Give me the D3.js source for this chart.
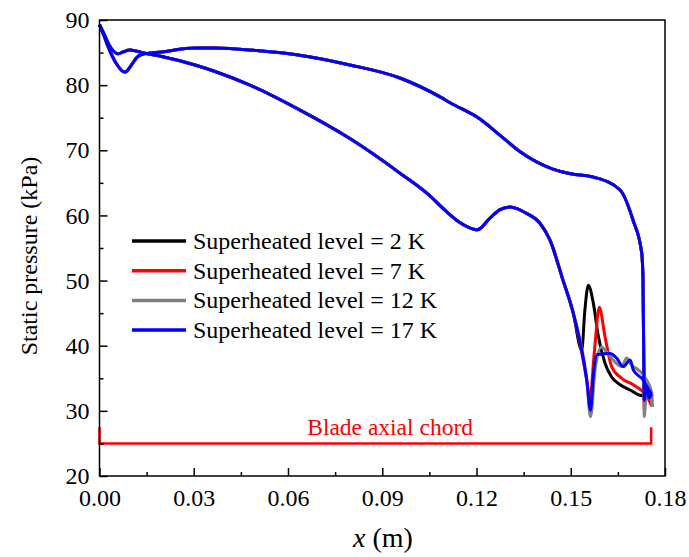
<!DOCTYPE html>
<html>
<head>
<meta charset="utf-8">
<script src="https://cdn.jsdelivr.net/npm/d3@7"></script>
<style>
  body { margin: 0; background: #fff; }
  text { font-family: "Liberation Serif", "Times New Roman", serif; fill: #000; }
</style>
</head>
<body>
<svg id="chart"></svg>
<script>
// suction side, shared by all levels up to the shock region [x (m), p (kPa)]
const suctionLead = [
  [0, 89.3], [0.0015, 87.8], [0.003, 86.2], [0.0045, 85.2], [0.0059, 84.8],
  [0.0075, 85.1], [0.0097, 85.4], [0.012, 85.2], [0.0145, 84.9], [0.0198, 84.4],
  [0.0304, 83.1], [0.0368, 82.1], [0.0479, 80.0], [0.0637, 76.2], [0.0797, 71.8],
  [0.0956, 66.5], [0.1061, 62.6], [0.1084, 61.5], [0.1116, 60.1], [0.1147, 58.9],
  [0.119, 57.9], [0.1202, 57.8], [0.1243, 59.6], [0.1275, 60.9], [0.1307, 61.3],
  [0.136, 60.3], [0.1402, 58.8], [0.1434, 56.2], [0.1475, 50.1], [0.1508, 45.0]
]

// pressure side, shared up to the trailing edge
const pressureLead = [
  [0, 89.3], [0.0015, 87.5], [0.003, 85.6], [0.005, 83.6], [0.0081, 82.0],
  [0.0102, 83.1], [0.0118, 84.2], [0.0134, 84.7], [0.0198, 85.1], [0.0304, 85.7],
  [0.0368, 85.7], [0.05, 85.3], [0.0637, 84.6], [0.0797, 83.1], [0.0956, 81.1],
  [0.1084, 78.2], [0.1116, 77.3], [0.1211, 74.8], [0.1275, 72.3], [0.1338, 69.8],
  [0.1443, 67.1], [0.15, 66.4], [0.1571, 65.9], [0.1657, 63.9], [0.1698, 59.3],
  [0.1726, 54.2], [0.1730, 50.1]
]

// suction side tails (shock region)
const tail2K = [
  [0.1535, 39.3], [0.1545, 45.5], [0.1556, 49.3], [0.1572, 46.5], [0.1588, 41.4],
  [0.1609, 37.3], [0.1630, 35.2], [0.1657, 34.0], [0.1689, 33.2], [0.1720, 32.4],
  [0.1752, 32.2], [0.1758, 31.6]
]
const tail7K = [
  [0.1551, 34.7], [0.1561, 31.9], [0.1575, 39.0], [0.1591, 45.9], [0.1609, 41.4],
  [0.1630, 36.8], [0.1662, 35.0], [0.1699, 34.0], [0.1731, 32.9], [0.1750, 31.8],
  [0.1758, 30.8]
]
const tail12K = [
  [0.1551, 34.7], [0.1563, 29.1], [0.1578, 36.5], [0.1598, 39.8], [0.1615, 39.0],
  [0.1635, 37.8], [0.1662, 36.8], [0.1678, 38.1], [0.1694, 37.0], [0.1715, 36.3],
  [0.1742, 34.7], [0.1758, 32.7], [0.1760, 30.6]
]
const tail17K = [
  [0.1551, 34.7], [0.1563, 30.1], [0.1572, 35.5], [0.1583, 38.6], [0.1625, 38.8],
  [0.1646, 38.1], [0.1667, 36.8], [0.1689, 37.8], [0.1699, 36.3], [0.1731, 34.7],
  [0.1745, 33.5], [0.1757, 32.6]
]

// pressure side trailing edge drop
const te2K = [[0.1732, 40.0], [0.1734, 32.0], [0.1745, 32.4], [0.1758, 31.6]]
const te7K = [[0.1732, 40.0], [0.1734, 30.2], [0.1740, 32.5], [0.1750, 31.5], [0.1758, 30.8]]
const te12K = [[0.1732, 40.0], [0.1734, 29.1], [0.1740, 33.0], [0.1750, 33.5], [0.1760, 30.6]]
const te17K = [[0.1732, 40.0], [0.1734, 31.6], [0.1742, 33.8], [0.1750, 32.0], [0.1757, 32.6]]

const levels = ["Superheated level = 2 K", "Superheated level = 7 K",
  "Superheated level = 12 K", "Superheated level = 17 K"]
const tails = [tail2K, tail7K, tail12K, tail17K]
const edges = [te2K, te7K, te12K, te17K]
const colors = ["#000000", "#ff0000", "#808080", "#0000ff"]

const xTicks = [0, 0.03, 0.06, 0.09, 0.12, 0.15, 0.18]
const yTicks = [20, 30, 40, 50, 60, 70, 80, 90]
const chord = 0.1756

const width = 689, height = 557
const svg = d3.select('#chart').attr('width', width).attr('height', height)

const x = d3.scaleLinear().domain([0, 0.18]).range([99.5, 665])
const y = d3.scaleLinear().domain([20, 90]).range([476, 20])

const line = d3.line()
  .x(d => x(d[0]))
  .y(d => y(d[1]))
  .curve(d3.curveMonotoneX)

// curves
const series = levels.map((name, i) => ({
  name,
  color: colors[i],
  suction: suctionLead.concat(tails[i]),
  pressure: pressureLead.concat(edges[i])
}))

const g = svg.append('g')
series.forEach(s => {
  [s.suction, s.pressure].forEach(pts => {
    g.append('path')
      .attr('d', line(pts))
      .attr('fill', 'none')
      .attr('stroke', s.color)
      .attr('stroke-width', 3)
      .attr('stroke-linejoin', 'round')
  })
})

// blade axial chord bracket
const bracket = [[0, 27.5], [0, 25], [chord, 25], [chord, 27.5]]
svg.append('path')
  .attr('d', d3.line().x(d => x(d[0])).y(d => y(d[1]))(bracket))
  .attr('fill', 'none')
  .attr('stroke', '#ff0000')
  .attr('stroke-width', 2.5)

svg.append('text')
  .attr('x', x(0.0925))
  .attr('y', y(26.35))
  .attr('text-anchor', 'middle')
  .style('font-size', '23.5px')
  .style('fill', '#ff0000')
  .text('Blade axial chord')

// axes, ticks inward
const xAxis = d3.axisBottom(x).tickValues(xTicks).tickFormat(d3.format('.2f'))
  .tickSizeInner(-8).tickSizeOuter(0).tickPadding(13)
const xMinor = d3.axisBottom(x).tickValues(d3.range(0.015, 0.18, 0.03))
  .tickSizeInner(-4).tickSizeOuter(0).tickFormat('')
const yAxis = d3.axisLeft(y).tickValues(yTicks)
  .tickSizeInner(-8).tickSizeOuter(0).tickPadding(10)
const yMinor = d3.axisLeft(y).tickValues(d3.range(25, 90, 10))
  .tickSizeInner(-4).tickSizeOuter(0).tickFormat('')

const axes = [
  [xAxis, `translate(0, ${y(20)})`],
  [xMinor, `translate(0, ${y(20)})`],
  [yAxis, `translate(${x(0)}, 0)`],
  [yMinor, `translate(${x(0)}, 0)`]
]
axes.forEach(([ax, tr]) => {
  const a = svg.append('g').attr('transform', tr).call(ax)
  a.selectAll('line').attr('stroke', '#000').attr('stroke-width', 1.5)
  a.select('.domain').remove()
  a.selectAll('text').style('font-size', '24px')
    .style('font-family', '"Liberation Serif", serif').attr('fill', '#000')
})

// frame
svg.append('rect')
  .attr('x', x(0)).attr('y', y(90))
  .attr('width', x(0.18) - x(0)).attr('height', y(20) - y(90))
  .attr('fill', 'none').attr('stroke', '#000').attr('stroke-width', 1.5)

// axis labels
svg.append('text')
  .attr('transform', `translate(37, ${(y(20) + y(90)) / 2 + 8}) rotate(-90)`)
  .attr('text-anchor', 'middle')
  .style('font-size', '24px')
  .text('Static pressure (kPa)')

const xl = svg.append('text')
  .attr('x', 383).attr('y', 547)
  .attr('text-anchor', 'middle')
  .style('font-size', '28px')
xl.append('tspan').style('font-style', 'italic').text('x')
xl.append('tspan').text(' (m)')

// legend
const legend = svg.append('g').attr('transform', 'translate(132, 241)')
series.forEach((s, i) => {
  const row = legend.append('g').attr('transform', `translate(0, ${i * 29.7})`)
  row.append('line')
    .attr('x1', 0).attr('x2', 54).attr('y1', 0).attr('y2', 0)
    .attr('stroke', s.color).attr('stroke-width', 3.5)
  row.append('text')
    .attr('x', 61).attr('y', 8)
    .style('font-size', '24px')
    .text(s.name)
})
</script>
</body>
</html>
